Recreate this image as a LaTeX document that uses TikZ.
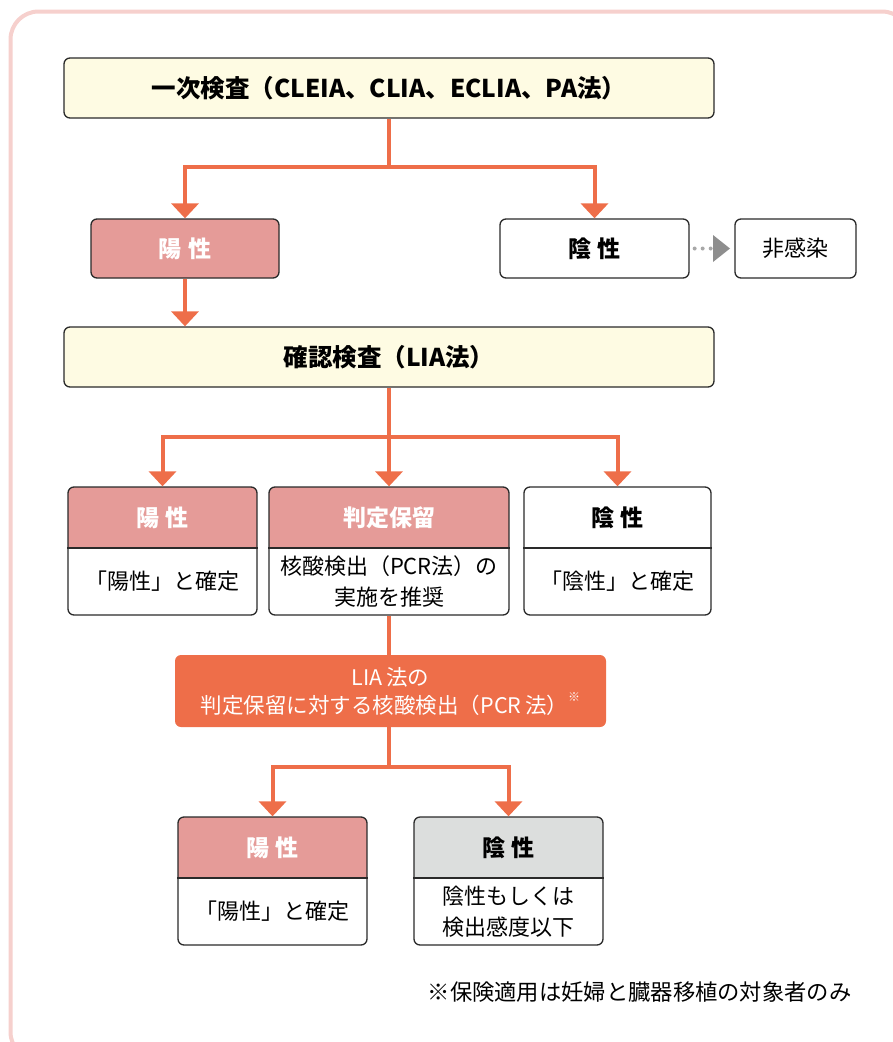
\documentclass[tikz,border=0pt]{standalone}
\usepackage{fontspec}
\setmainfont{Noto Sans CJK JP}
\usetikzlibrary{arrows.meta}
\definecolor{orng}{HTML}{EE6E49}
\definecolor{hdpink}{HTML}{E59B98}
\definecolor{ltyel}{HTML}{FEFBE3}
\definecolor{hdgray}{HTML}{DCDEDD}
\definecolor{framepink}{HTML}{F6D0CD}
\definecolor{boxline}{HTML}{2A2A2A}
\definecolor{dotgray}{HTML}{8E8E8E}
\definecolor{dotlight}{HTML}{A8A8A8}
\tikzset{
  box/.style={draw=boxline, line width=1.3pt, rounded corners=6pt, inner sep=0pt},
  flow/.style={draw=orng, line width=4pt},
  arr/.style={flow, -{Triangle[width=27pt,length=15pt]}},
  ttl/.style={font=\fontsize{24.5}{28}\selectfont\bfseries},
  hdw/.style={font=\fontsize{23}{27}\selectfont\bfseries, text=white},
  hdb/.style={font=\fontsize{23}{27}\selectfont\bfseries, text=black},
  bodytxt/.style={font=\fontsize{22}{31}\selectfont, align=center},
}
\newcommand{\gapsp}{\hspace{0.3em}}
\begin{document}
\begin{tikzpicture}[x=1pt,y=-1pt]
\useasboundingbox (0,0) rectangle (893,1042);
% outer frame
\draw[framepink, line width=4pt, rounded corners=28pt] (10.5,11.5) rectangle (910,1060);

% primary test
\node[box, fill=ltyel, minimum width=650pt, minimum height=60pt, ttl] (b1) at (389,88) {一次検査（CLEIA、CLIA、ECLIA、PA法）};
\node[box, fill=hdpink, minimum width=188pt, minimum height=59pt, hdw] (p1) at (185,248.5) {陽\gapsp 性};
\node[box, fill=white, minimum width=189pt, minimum height=59pt, hdb] (n1) at (594.5,248.5) {陰\gapsp 性};
\node[box, fill=white, minimum width=121pt, minimum height=59pt, bodytxt] (ni) at (795.5,248.5) {非感染};

% confirmatory test
\node[box, fill=ltyel, minimum width=650pt, minimum height=60pt, ttl] (b2) at (389,357) {確認検査（LIA法）};

% row boxes: A, B, C
\begin{scope}
  \clip[rounded corners=6pt] (68,487) rectangle (257,615);
  \fill[hdpink] (68,487) rectangle (257,548);
\end{scope}
\begin{scope}
  \clip[rounded corners=6pt] (269,487) rectangle (509,615);
  \fill[hdpink] (269,487) rectangle (509,548);
\end{scope}
\node[box, minimum width=189pt, minimum height=128pt] (A) at (162.5,551) {};
\node[box, minimum width=240pt, minimum height=128pt] (B) at (389,551) {};
\node[box, minimum width=187pt, minimum height=128pt] (C) at (617.5,551) {};
\draw[boxline, line width=1.3pt] (A.west |- 0,548) -- (A.east |- 0,548);
\draw[boxline, line width=1.3pt] (B.west |- 0,548) -- (B.east |- 0,548);
\draw[boxline, line width=1.3pt] (C.west |- 0,548) -- (C.east |- 0,548);
\node[hdw] (Ah) at (162.5,517.5) {陽\gapsp 性};
\node[hdw] (Bh) at (389,517.5) {判定保留};
\node[hdb] (Ch) at (617.5,517.5) {陰\gapsp 性};
\node[bodytxt] (Ab) at (162.5,581.5) {「陽性」と確定};
\node[bodytxt] (Bb) at (389,581.5) {核酸検出（PCR法）の\\実施を推奨};
\node[bodytxt] (Cb) at (617.5,581.5) {「陰性」と確定};

% orange box
\node[fill=orng, rounded corners=6pt, minimum width=431pt, minimum height=72pt, text=white, font=\fontsize{21.5}{28}\selectfont, align=center] (O) at (390.5,691) {LIA\,法の\\判定保留に対する核酸検出（PCR\,法）\raisebox{0.55em}{\fontsize{12}{12}\selectfont ※}};

% bottom boxes D, E
\begin{scope}
  \clip[rounded corners=6pt] (178,817) rectangle (367,945);
  \fill[hdpink] (178,817) rectangle (367,878);
\end{scope}
\begin{scope}
  \clip[rounded corners=6pt] (414,817) rectangle (603,945);
  \fill[hdgray] (414,817) rectangle (603,878);
\end{scope}
\node[box, minimum width=189pt, minimum height=128pt] (D) at (272.5,881) {};
\node[box, minimum width=189pt, minimum height=128pt] (E) at (508.5,881) {};
\draw[boxline, line width=1.3pt] (D.west |- 0,878) -- (D.east |- 0,878);
\draw[boxline, line width=1.3pt] (E.west |- 0,878) -- (E.east |- 0,878);
\node[hdw] (Dh) at (272.5,847.5) {陽\gapsp 性};
\node[hdb] (Eh) at (508.5,847.5) {陰\gapsp 性};
\node[bodytxt] (Db) at (272.5,911.5) {「陽性」と確定};
\node[bodytxt] (Eb) at (508.5,911.5) {陰性もしくは\\検出感度以下};

% footnote
\node[anchor=east, font=\fontsize{22.3}{26}\selectfont] (fn) at (855,992) {※保険適用は妊婦と臓器移植の対象者のみ};

% connectors
\coordinate (j1) at (389,167);
\draw[flow] (b1.south) -- (j1);
\draw[arr] (j1) -| (p1.north);
\draw[arr] (j1) -| (n1.north);
\draw[arr] (p1.south) -- (p1.south |- b2.north);

\draw[dotlight, line width=4pt, line cap=round, dash pattern=on 0pt off 8pt, shorten <=5pt, shorten >=22pt] (n1.east) -- (ni.west);
\fill[dotgray] (713,235) -- (730,248.5) -- (713,262) -- cycle;

\coordinate (j2) at (389,437);
\draw[flow] (b2.south) -- (j2);
\draw[arr] (j2) -| (A.north);
\draw[arr] (j2) -- (B.north);
\draw[arr] (j2) -| (C.north);

\draw[flow] (B.south) -- (B.south |- O.north);

\coordinate (j3) at (389,767);
\draw[flow] (O.south -| j3) -- (j3);
\draw[arr] (j3) -| (D.north);
\draw[arr] (j3) -| (E.north);
\end{tikzpicture}
\end{document}
